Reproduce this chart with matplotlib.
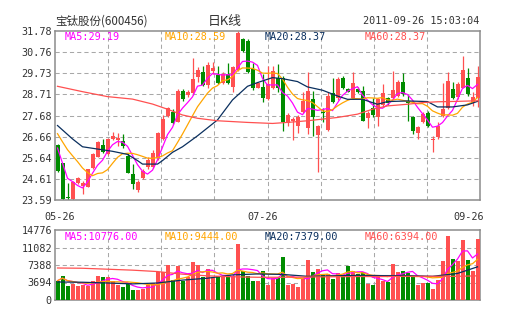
import matplotlib
matplotlib.use("Agg")
import matplotlib.pyplot as plt
import matplotlib.transforms as mtransforms
import numpy as np
import pandas as pd

W, H, DPI = 505, 330, 100

RED = "#ff5050"
GREEN = "#008c00"
C_MA5 = "#ff00ff"
C_MA10 = "#ffa500"
C_MA20 = "#0a2f5e"
C_MA60 = "#ff5050"
TXT = "#333333"
FRAME = "#8c8c8c"
GRID = "#a8a8a8"

# daily OHLC, 2011-05-26 .. 2011-09-26
opens = [26.25, 25.37, 23.70, 23.64, 24.43, 24.28, 24.21, 25.15, 25.69, 26.26,
         25.80, 26.56, 26.50, 26.47, 25.72, 24.85, 24.08, 24.67, 25.20, 25.20,
         25.61, 26.53, 27.65, 27.87, 27.39, 28.87, 28.68, 28.76, 29.54, 29.78,
         29.16, 29.86, 29.65, 29.26, 29.70, 29.08, 29.90, 31.38, 31.28, 29.92,
         29.04, 29.07, 28.50, 29.00, 29.52, 29.50, 27.30, 27.43, 27.19, 27.86,
         27.06, 28.47, 26.75, 27.85, 26.98, 28.76, 28.52, 29.52, 28.96, 28.55,
         28.99, 28.88, 27.54, 28.07, 27.62, 28.20, 28.55, 28.55, 28.64, 29.33,
         28.40, 27.59, 26.86, 27.35, 27.83, 26.49, 26.62, 27.67, 28.04, 28.96,
         28.59, 29.04, 29.49, 28.36, 28.55]
highs = [26.32, 25.40, 24.40, 24.50, 24.72, 24.52, 25.10, 25.85, 26.45, 26.53,
         26.60, 26.87, 26.85, 26.80, 25.85, 25.35, 24.55, 25.10, 25.65, 26.00,
         26.90, 27.70, 28.08, 28.00, 28.95, 28.95, 28.90, 30.45, 30.05, 30.10,
         30.30, 30.30, 30.10, 29.80, 30.25, 30.10, 31.78, 31.45, 31.40, 30.21,
         29.30, 29.68, 30.10, 30.08, 30.16, 29.60, 27.80, 27.59, 27.70, 28.80,
         29.80, 28.88, 27.22, 28.07, 28.80, 29.52, 29.55, 29.60, 29.00, 29.81,
         29.05, 29.12, 27.91, 28.55, 28.55, 29.20, 28.60, 29.84, 29.40, 29.76,
         28.72, 27.67, 27.20, 27.85, 27.91, 26.70, 27.35, 29.28, 29.81, 29.33,
         29.30, 30.57, 30.00, 28.80, 30.10]
lows = [24.95, 23.59, 23.59, 23.60, 24.38, 23.88, 24.20, 25.10, 25.65, 25.85,
        25.78, 26.50, 26.20, 26.10, 24.88, 24.12, 24.00, 24.62, 25.10, 25.15,
        25.55, 26.50, 27.60, 27.25, 27.35, 28.40, 28.60, 28.70, 29.30, 29.10,
        29.00, 29.70, 29.20, 29.20, 29.20, 28.80, 29.85, 30.75, 29.75, 28.90,
        29.00, 28.36, 28.45, 28.96, 28.80, 26.91, 27.20, 26.49, 26.86, 27.80,
        26.78, 26.67, 24.93, 27.35, 26.94, 28.30, 28.45, 28.95, 28.80, 28.50,
        28.78, 27.40, 27.06, 27.62, 27.17, 28.10, 28.20, 28.50, 28.60, 28.65,
        27.43, 26.78, 26.54, 27.30, 27.14, 25.94, 26.55, 27.60, 28.00, 28.50,
        28.50, 29.00, 28.65, 28.15, 28.10]
closes = [25.00, 23.64, 23.68, 24.48, 24.67, 24.40, 25.09, 25.80, 26.39, 25.90,
          26.55, 26.69, 26.60, 26.21, 24.91, 24.35, 24.45, 24.99, 25.53, 25.85,
          26.85, 27.52, 28.03, 27.30, 28.89, 28.47, 28.84, 29.44, 29.89, 29.16,
          30.13, 29.97, 29.25, 29.71, 29.25, 30.05, 31.70, 30.80, 29.81, 29.00,
          29.25, 28.55, 29.20, 29.84, 29.00, 27.38, 27.72, 27.51, 27.62, 28.39,
          28.88, 27.59, 27.19, 27.82, 28.64, 28.36, 29.47, 29.00, 28.84, 29.25,
          28.84, 27.43, 27.80, 27.72, 28.47, 28.76, 28.28, 28.90, 29.33, 28.72,
          28.28, 26.94, 27.14, 27.78, 27.19, 26.54, 27.19, 28.02, 29.36, 28.55,
          29.20, 29.89, 28.72, 28.59, 29.55]
# closes of the nine sessions before the window (for the short averages)
prior_close = [27.60, 27.50, 27.40, 27.50, 27.50, 27.30, 27.35, 25.30, 25.60]

volumes = [4080, 5137, 3026, 3378, 2885, 3237, 3026, 4080, 4996, 4785,
           4926, 3940, 3237, 2674, 3378, 2181, 2181, 2393, 3237, 3589,
           5840, 5840, 7459, 4293, 7107, 4080, 4785, 7952, 7318, 4785,
           6615, 4644, 4996, 4996, 4785, 4996, 11892, 6052, 4996, 4080,
           4080, 6193, 3237, 4644, 4644, 9007, 3237, 3378, 2674, 4644,
           8515, 5911, 6615, 5207, 5489, 4504, 5700, 5348, 7107, 6052,
           5489, 5840, 3378, 3237, 4996, 4080, 3800, 7600, 5911, 6193,
           5700, 4785, 3096, 3659, 3659, 2393, 4293, 8304, 13582, 8726,
           8304, 12737, 8515, 6052, 12948]

# long averages at selected sessions
ma20_idx = [0, 3, 5, 8, 11, 14, 16, 17, 20, 21, 23, 25, 28, 32, 35, 38, 40,
            43, 45, 48, 50, 53, 56, 58, 61, 64, 66, 70, 74, 76, 79, 82, 84]
ma20_val = [27.20, 26.55, 26.17, 26.06, 25.95, 25.80, 25.50, 25.33, 25.33,
            25.50, 25.90, 26.17, 26.70, 27.47, 28.44, 29.10, 29.28, 29.52,
            29.47, 29.33, 29.07, 28.91, 28.63, 28.47, 28.47, 28.23, 28.36,
            28.39, 28.36, 28.10, 28.10, 28.20, 28.37]
ma60_idx = [0, 5, 10, 15, 19, 22, 25, 28, 32, 35, 38, 43, 46, 50, 53, 56,
            60, 63, 66, 70, 73, 76, 80, 84]
ma60_val = [29.10, 28.84, 28.60, 28.48, 28.24, 27.99, 27.71, 27.55, 27.43,
            27.39, 27.35, 27.30, 27.35, 27.43, 27.51, 27.59, 27.75, 27.99,
            28.15, 28.23, 28.31, 28.35, 28.37, 28.40]
vol_ma20_idx = [0, 5, 10, 15, 20, 25, 30, 35, 40, 45, 50, 55, 60, 65, 70, 75, 80, 84]
vol_ma20_val = [3800, 3750, 3589, 3400, 3589, 4200, 4600, 5300, 5500, 5400,
                5000, 5100, 5200, 5150, 5150, 5000, 5600, 7000]
vol_ma60_idx = [0, 5, 10, 15, 20, 25, 30, 35, 40, 45, 50, 55, 60, 65, 70, 75, 80, 84]
vol_ma60_val = [6755, 6700, 6500, 6300, 6000, 5450, 5100, 4900, 4800, 4800,
                4850, 4900, 4950, 4950, 5000, 5000, 5000, 5100]

price_ticks = [23.59, 24.61, 25.64, 26.66, 27.68, 28.71, 29.73, 30.76, 31.78]
vol_ticks = [0, 3694, 7388, 11082, 14776]
date_ticks = [0, 41, 84]
date_labels = ["05-26", "07-26", "09-26"]

price_legend = ["MA5:29.19", "MA10:28.59", "MA20:28.37", "MA60:28.37"]
vol_legend = ["MA5:10776.00", "MA10:9444.00", "MA20:7379.00", "MA60:6394.00"]

plt.rcParams["font.family"] = ["DejaVu Sans Mono"]
plt.rcParams["lines.scale_dashes"] = False
MONO = 7.3


def px(x, y):
    return x / W, 1 - y / H


def style_axes(ax, ticks, n):
    ax.set_xlim(-0.5, n - 0.5)
    ax.set_ylim(ticks[0], ticks[-1])
    ax.set_yticks(ticks)
    grid_kw = dict(color=GRID, linestyle=(0, (3, 2.2)), lw=0.75, zorder=1)
    for gy in ticks[1:-1]:
        ax.axhline(gy, **grid_kw)
    # eight equal vertical divisions
    for gx in np.linspace(-0.5, n - 0.5, 9)[1:-1]:
        ax.axvline(gx, **grid_kw)
    ax.tick_params(length=0, labelsize=MONO, colors=TXT, pad=2.2)
    for s in ax.spines.values():
        s.set_color(FRAME)
        s.set_linewidth(1.1)


n = len(closes)
x = np.arange(n)
o = np.array(opens)
c = np.array(closes)
up = c >= o
colors = np.where(up, RED, GREEN)

s = pd.Series(prior_close + closes)
ma5 = s.rolling(5).mean().iloc[len(prior_close):].values
ma10 = s.rolling(10).mean().iloc[len(prior_close):].values
v = pd.Series(volumes)
vma5 = v.rolling(5, min_periods=1).mean().values
vma10 = v.rolling(10, min_periods=1).mean().values

fig = plt.figure(figsize=(W / DPI, H / DPI), dpi=DPI)
ax = fig.add_axes([55 / W, 1 - 200 / H, 425 / W, 169 / H])
axv = fig.add_axes([55 / W, 1 - 300 / H, 425 / W, 70 / H])

# candles
style_axes(ax, price_ticks, n)
ax.vlines(x, lows, highs, colors=colors, lw=0.9, zorder=2)
body = np.maximum(np.abs(c - o), 0.035)
ax.bar(x, body, bottom=np.minimum(o, c), width=0.8, color=colors, lw=0, zorder=3)
ax.plot(x, ma5, color=C_MA5, lw=0.9, zorder=4)
ax.plot(x, ma10, color=C_MA10, lw=0.9, zorder=4)
ax.plot(ma20_idx, ma20_val, color=C_MA20, lw=0.9, zorder=4)
ax.plot(ma60_idx, ma60_val, color=C_MA60, lw=0.9, zorder=4)
ax.set_xticks(date_ticks)
ax.set_xticklabels(date_labels)
ax.tick_params(axis="x", pad=8.5)
labels = ax.get_xticklabels()
labels[0].set_transform(labels[0].get_transform() +
                        mtransforms.ScaledTranslation(0.02, 0, fig.dpi_scale_trans))
labels[-1].set_transform(labels[-1].get_transform() +
                         mtransforms.ScaledTranslation(-0.085, 0, fig.dpi_scale_trans))

# volume
style_axes(axv, vol_ticks, n)
axv.bar(x, volumes, width=0.8, color=colors, lw=0, zorder=3)
axv.plot(x, vma5, color=C_MA5, lw=0.9, zorder=4)
axv.plot(x, vma10, color=C_MA10, lw=0.9, zorder=4)
axv.plot(vol_ma20_idx, vol_ma20_val, color=C_MA20, lw=0.9, zorder=4)
axv.plot(vol_ma60_idx, vol_ma60_val, color=C_MA60, lw=0.9, zorder=4)
axv.set_xticks([])

# legends inside the panels
for i, col in enumerate([C_MA5, C_MA10, C_MA20, C_MA60]):
    fig.text(*px(65 + 100 * i, 37), price_legend[i], color=col, fontsize=MONO,
             va="center", ha="left")
    fig.text(*px(65 + 100 * i, 237), vol_legend[i], color=col, fontsize=MONO,
             va="center", ha="left")

# header
fig.text(*px(55, 21), "宝钛股份(600456)", family=["Noto Sans CJK SC", "DejaVu Sans"],
         fontsize=8.3, color=TXT, va="center", ha="left")
fig.text(*px(225, 21), "日K线", family=["Noto Sans CJK SC", "DejaVu Sans"],
         fontsize=9.3, color=TXT, va="center", ha="center")
fig.text(*px(479, 21), "2011-09-26 15:03:04", fontsize=MONO, color=TXT,
         va="center", ha="right")

fig.savefig("out.png", dpi=DPI, facecolor="white")
